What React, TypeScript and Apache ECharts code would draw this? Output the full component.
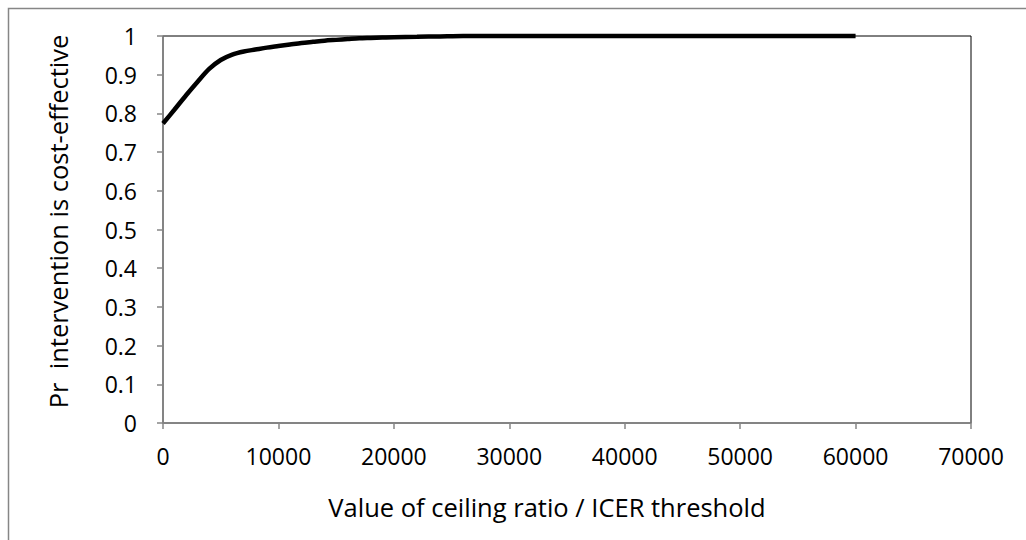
import React, { useEffect, useRef } from "react";
import * as echarts from "echarts";

const thresholds = [0, 1000, 2000, 3000, 4000, 5000, 6000, 7000, 8000, 9000, 10000, 11000, 12000, 13000, 14000, 15000, 16000, 17000, 18000, 19000, 20000, 22000, 24000, 26000, 30000, 35000, 40000, 45000, 50000, 55000, 60000];
const probCE = [0.774, 0.81, 0.847, 0.882, 0.915, 0.938, 0.952, 0.96, 0.965, 0.97, 0.974, 0.978, 0.982, 0.985, 0.988, 0.99, 0.992, 0.994, 0.995, 0.996, 0.997, 0.998, 0.999, 1, 1, 1, 1, 1, 1, 1, 1];
const xAxisTitle = "Value of ceiling ratio / ICER threshold";
const yAxisTitle = "Pr  intervention is cost-effective";

export default function App() {
  const ref = useRef<HTMLDivElement>(null);
  useEffect(() => {
    if (!ref.current) return;
    const chart = echarts.init(ref.current, null, { renderer: "svg" });
    const font = "'Open Sans', 'Noto Sans', sans-serif";
    const gray = "#868686";
    chart.setOption({
      animation: false,
      backgroundColor: "#fff",
      textStyle: { fontFamily: font },
      graphic: [
        {
          type: "rect",
          shape: { x: 8.5, y: 8.5, width: 1100, height: 600 },
          style: { fill: "none", stroke: gray, lineWidth: 1.5 },
          silent: true,
        },
      ],
      grid: {
        left: 163,
        top: 36,
        right: 55,
        bottom: 117,
        show: true,
        borderColor: "#000",
        borderWidth: 1,
        backgroundColor: "transparent",
      },
      xAxis: {
        type: "value",
        min: 0,
        max: 70000,
        interval: 10000,
        name: xAxisTitle,
        nameLocation: "middle",
        nameGap: 71,
        nameTextStyle: { fontSize: 25.5, color: "#000", fontFamily: font, padding: [0, 40, 0, 0] },
        axisLine: { show: true, lineStyle: { color: gray, width: 1.5 } },
        axisTick: { show: true, inside: false, length: 6, lineStyle: { color: gray, width: 1.5 } },
        axisLabel: {
          fontSize: 23,
          color: "#000",
          margin: 21,
          fontFamily: font,
          formatter: (v: number) => String(v),
        },
        splitLine: { show: false },
      },
      yAxis: {
        type: "value",
        min: 0,
        max: 1,
        interval: 0.1,
        name: yAxisTitle,
        nameLocation: "middle",
        nameGap: 92,
        nameRotate: 90,
        nameTextStyle: { fontSize: 25.5, color: "#000", fontFamily: font, padding: [0, 0, 0, 16] },
        axisLine: { show: true, lineStyle: { color: gray, width: 1.5 } },
        axisTick: { show: true, inside: false, length: 6, lineStyle: { color: gray, width: 1.5 } },
        axisLabel: {
          fontSize: 23,
          color: "#000",
          margin: 26,
          fontFamily: font,
          formatter: (v: number) => String(Math.round(v * 10) / 10),
        },
        splitLine: { show: false },
      },
      series: [
        {
          type: "line",
          data: thresholds.map((t, i) => [t, probCE[i]]),
          showSymbol: false,
          symbol: "none",
          smooth: 0.3,
          lineStyle: { color: "#000", width: 4.5 },
          clip: false,
        },
      ],
    });
    return () => chart.dispose();
  }, []);
  return (
    <div
      ref={ref}
      style={{ position: "fixed", left: 0, top: 0, width: 1026, height: 540 }}
    />
  );
}
